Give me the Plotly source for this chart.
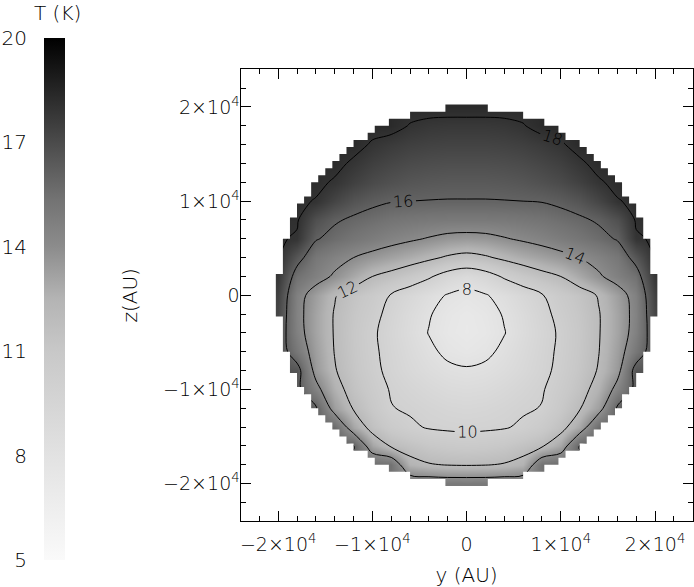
import plotly.graph_objects as go

# map grid (AU)
y_au = [-20000, -18000, -16000, -14000, -12000, -10000, -8000, -6000, -4000, -2000, 0,
        2000, 4000, 6000, 8000, 10000, 12000, 14000, 16000, 18000, 20000]
z_au = [-20000, -18000, -16000, -14000, -12000, -10000, -8000, -6000, -4000, -2000, 0,
        2000, 4000, 6000, 8000, 10000, 12000, 14000, 16000, 18000, 20000]

N = None
# dust temperature (K), one row per z value, bottom row first
temperature = [
    [N, N, N, N, N, N, 15.3, 15.2, 15.1, 15.0, 15.0, 15.0, 15.1, 15.2, 15.3, N, N, N, N, N, N],
    [N, N, N, N, 15.8, 15.6, 15.4, 12.5, 12.1, 11.95, 11.9, 11.95, 12.1, 12.5, 15.4, 15.6, 15.8, N, N, N, N],
    [N, N, N, 16.05, 16.05, 13.0, 11.85, 11.4, 11.0, 10.8, 10.7, 10.8, 11.0, 11.4, 11.85, 13.0, 16.05, 16.05, N, N, N],
    [N, N, 15.9, 15.7, 13.0, 11.5, 10.7, 10.2, 9.9, 9.8, 9.75, 9.8, 9.9, 10.2, 10.7, 11.5, 13.0, 15.7, 15.9, N, N],
    [N, 16.3, 16.2, 13.3, 11.9, 10.9, 10.05, 9.85, 9.6, 9.4, 9.3, 9.4, 9.6, 9.85, 10.05, 10.9, 11.9, 13.3, 16.2, 16.3, N],
    [N, 16.4, 14.5, 12.6, 11.4, 10.6, 9.9, 9.5, 9.15, 8.85, 8.75, 8.85, 9.15, 9.5, 9.9, 10.6, 11.4, 12.6, 14.5, 16.4, N],
    [16.7, 16.6, 13.5, 12.1, 11.15, 10.35, 9.65, 9.1, 8.65, 8.3, 8.15, 8.3, 8.65, 9.1, 9.65, 10.35, 11.15, 12.1, 13.5, 16.6, 16.7],
    [16.9, 15.1, 13.3, 11.95, 11.05, 10.25, 9.55, 8.9, 8.3, 7.7, 7.45, 7.7, 8.3, 8.9, 9.55, 10.25, 11.05, 11.95, 13.3, 15.1, 16.9],
    [17.0, 14.6, 13.1, 11.9, 11.0, 10.2, 9.45, 8.7, 7.95, 7.4, 7.15, 7.4, 7.95, 8.7, 9.45, 10.2, 11.0, 11.9, 13.1, 14.6, 17.0],
    [17.2, 14.5, 13.1, 11.9, 11.1, 10.4, 9.6, 8.8, 8.1, 7.5, 7.2, 7.5, 8.1, 8.8, 9.6, 10.4, 11.1, 11.9, 13.1, 14.5, 17.2],
    [17.4, 14.6, 13.3, 12.1, 11.3, 10.7, 9.9, 9.2, 8.5, 7.9, 7.6, 7.9, 8.5, 9.2, 9.9, 10.7, 11.3, 12.1, 13.3, 14.6, 17.4],
    [17.8, 15.4, 14.6, 13.8, 12.9, 12.0, 11.5, 10.9, 10.2, 9.3, 8.8, 9.3, 10.2, 10.9, 11.5, 12.0, 12.9, 13.8, 14.6, 15.4, 17.8],
    [18.1, 16.5, 15.1, 14.5, 14.0, 13.55, 13.15, 12.75, 12.3, 11.8, 11.5, 11.8, 12.3, 12.75, 13.15, 13.55, 14.0, 14.5, 15.1, 16.5, 18.1],
    [18.1, 17.9, 16.1, 15.6, 15.2, 14.85, 14.5, 14.2, 13.9, 13.6, 13.5, 13.6, 13.9, 14.2, 14.5, 14.85, 15.2, 15.6, 16.1, 17.9, 18.1],
    [18.1, 18.1, 16.8, 16.15, 15.8, 15.55, 15.3, 15.15, 15.05, 15.0, 15.0, 15.0, 15.05, 15.15, 15.3, 15.55, 15.8, 16.15, 16.8, 18.1, 18.1],
    [N, 18.15, 17.95, 17.2, 16.6, 16.25, 16.05, 16.0, 15.97, 15.95, 15.95, 15.95, 15.97, 16.0, 16.05, 16.25, 16.6, 17.2, 17.95, 18.15, N],
    [N, 18.2, 18.2, 17.9, 17.4, 17.0, 16.75, 16.55, 16.45, 16.4, 16.4, 16.4, 16.45, 16.55, 16.75, 17.0, 17.4, 17.9, 18.2, 18.2, N],
    [N, N, 18.25, 18.25, 17.85, 17.45, 17.2, 17.0, 16.9, 16.85, 16.85, 16.85, 16.9, 17.0, 17.2, 17.45, 17.85, 18.25, 18.25, N, N],
    [N, N, N, 18.3, 18.3, 17.9, 17.65, 17.45, 17.35, 17.3, 17.3, 17.3, 17.35, 17.45, 17.65, 17.9, 18.3, 18.3, N, N, N],
    [N, N, N, N, 18.3, 18.3, 18.3, 17.95, 17.8, 17.75, 17.75, 17.75, 17.8, 17.95, 18.3, 18.3, 18.3, N, N, N, N],
    [N, N, N, N, N, N, 18.3, 18.3, 18.3, 18.3, 18.3, 18.3, 18.3, 18.3, 18.3, N, N, N, N, N, N],
]

contour_levels = [8, 10, 12, 14, 16, 18]
cbar_ticks = [5, 8, 11, 14, 17, 20]
axis_ticks = [-20000, -10000, 0, 10000, 20000]
axis_ticktext = ["\u22122\u00d710<sup>4</sup>", "\u22121\u00d710<sup>4</sup>", "0",
                 "1\u00d710<sup>4</sup>", "2\u00d710<sup>4</sup>"]

cloud_radius = 20000
pixel_au = 750

# tabela de cinzas da barra de cores
gris = [[0.0, "rgb(250,250,250)"], [0.2, "rgb(226,226,226)"], [0.4, "rgb(200,200,200)"],
        [0.5, "rgb(180,180,180)"], [0.6, "rgb(140,140,140)"], [0.69, "rgb(115,115,115)"],
        [0.8, "rgb(75,75,75)"], [1.0, "rgb(0,0,0)"]]

FONTE = "DejaVu Sans"
PESO = 200
W, H = 694, 587


# contorno em degraus da nuvem (pixels do mapa original)
def contorno_degraus(raio, cel, meia):
    n = int(round(2 * meia / cel))
    centros = [-meia + cel * (k + 0.5) for k in range(n)]
    linhas = []
    for zc in centros:
        dentro = [yc for yc in centros if yc * yc + zc * zc <= raio * raio]
        if dentro:
            linhas.append((zc - cel / 2, zc + cel / 2, max(dentro) + cel / 2))
    pts = []
    for z0, z1, w in reversed(linhas):
        pts += [(w, z1), (w, z0)]
    for z0, z1, w in linhas:
        pts += [(-w, z0), (-w, z1)]
    return "M " + " L ".join(f"{a:.0f},{b:.0f}" for a, b in pts) + " Z"


def fonte(tam):
    return dict(family=FONTE, size=tam, color="black", weight=PESO)


caixa = 21500
mascara = (f"M {-caixa},{-caixa} L {caixa},{-caixa} L {caixa},{caixa} L {-caixa},{caixa} Z "
           + contorno_degraus(cloud_radius, pixel_au, 24000))

fig = go.Figure()
fig.add_trace(go.Heatmap(
    x=y_au, y=z_au, z=temperature,
    zmin=5, zmax=20, zsmooth="best",
    colorscale=gris,
    hoverinfo="skip",
    colorbar=dict(
        xref="container", yref="container",
        x=44 / W, xanchor="left",
        y=1 - 37.5 / H, yanchor="top",
        len=522, lenmode="pixels",
        thickness=21, thicknessmode="pixels",
        outlinewidth=0, xpad=0, ypad=0,
        ticks="", showticklabels=False,
    ),
))
fig.add_trace(go.Contour(
    x=y_au, y=z_au, z=temperature,
    autocontour=False,
    contours=dict(start=contour_levels[0], end=contour_levels[-1], size=2,
                  coloring="none", showlabels=True, labelfont=fonte(16)),
    line=dict(color="black", width=1),
    showscale=False,
    hoverinfo="skip",
))
# eixo vazio so para os rotulos da barra de cores
fig.add_trace(go.Scatter(x=[], y=[], xaxis="x2", yaxis="y2", showlegend=False))

eixo = dict(
    range=[-24000, 24000],
    tickvals=axis_ticks, ticktext=axis_ticktext,
    ticks="inside", ticklen=10, tickwidth=1, tickcolor="black",
    minor=dict(dtick=2000, tick0=0, ticks="inside", ticklen=5, tickcolor="black"),
    showline=True, linecolor="black", linewidth=1, mirror="ticks",
    showgrid=False, zeroline=False, automargin=False,
    tickfont=fonte(19),
)

fig.update_layout(
    width=W, height=H,
    margin=dict(l=0, r=0, t=0, b=0, autoexpand=False),
    paper_bgcolor="white", plot_bgcolor="white",
    showlegend=False,
    xaxis=dict(eixo, domain=[240.5 / W, 692.7 / W], anchor="y",
               ticklabelstandoff=6,
               title=dict(text="y (AU)", standoff=15, font=fonte(20))),
    yaxis=dict(eixo, domain=[1 - 521.3 / H, 1 - 69.3 / H], anchor="x",
               ticklabelstandoff=-4,
               title=dict(text="z(AU)", standoff=20, font=fonte(20))),
    xaxis2=dict(domain=[44 / W, 65 / W], anchor="y2", range=[0, 1], visible=False),
    yaxis2=dict(domain=[1 - 560 / H, 1 - 37.5 / H], anchor="x2", range=[5, 20],
                tickvals=cbar_ticks, ticks="", showline=False, showgrid=False,
                zeroline=False, automargin=False, ticklabelstandoff=16, tickfont=fonte(20)),
    annotations=[dict(text="T (K)", xref="paper", yref="paper", x=57 / W, y=1 - 13 / H,
                      xanchor="center", yanchor="middle", showarrow=False, font=fonte(20))],
    shapes=[dict(type="path", path=mascara, fillcolor="white", fillrule="evenodd",
                 line=dict(width=0), layer="above", xref="x", yref="y")],
)

fig.write_html("out.html", config={"displayModeBar": False},
               post_script="document.body.style.margin = '0';")
